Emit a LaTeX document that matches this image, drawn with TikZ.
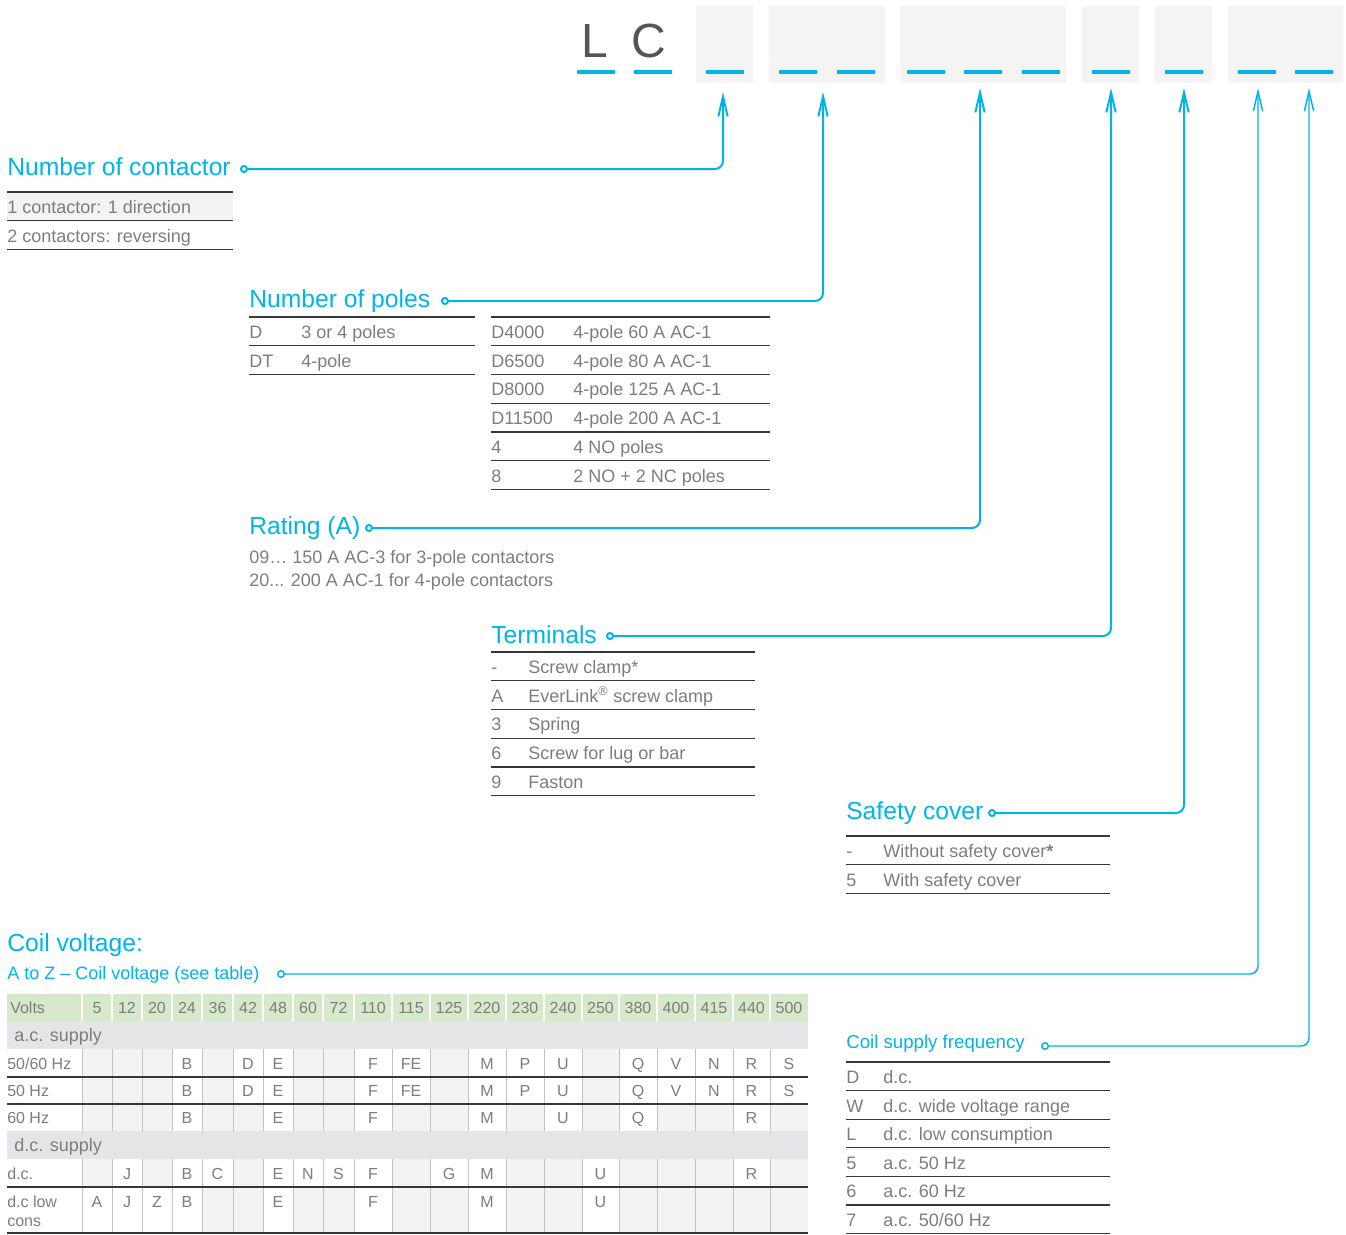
\documentclass[tikz,border=0pt]{standalone}
\usepackage{fontspec}
\setmainfont{Liberation Sans}
\usetikzlibrary{arrows.meta,positioning}
\definecolor{abbcyan}{RGB}{0,180,232}
\definecolor{txtgray}{RGB}{125,125,125}
\definecolor{codegray}{RGB}{85,85,85}
\definecolor{boxgray}{RGB}{244,244,244}
\definecolor{rulegray}{RGB}{55,55,55}
\definecolor{headgreen}{RGB}{214,233,203}
\definecolor{bandgray}{RGB}{229,229,231}
\definecolor{cellgray}{RGB}{243,243,243}
\definecolor{sepgray}{RGB}{195,195,195}
\tikzset{
  link/.style={abbcyan,line width=1.5pt,rounded corners=6pt,
    {Circle[open,length=6pt,width=6pt]}-{Straight Barb[length=15pt,width=7pt]}},
  thinlink/.style={link,line width=1.1pt},
  heading/.style={abbcyan,anchor=base west,inner sep=0pt,font=\fontsize{18.5}{22}\selectfont},
  subhead/.style={abbcyan,anchor=base west,inner sep=0pt,font=\fontsize{13.5}{16}\selectfont},
  listtxt/.style={txtgray,anchor=base west,inner sep=0pt,font=\fontsize{13.5}{16}\selectfont},
  vcell/.style={txtgray,anchor=base,inner sep=0pt,font=\fontsize{12}{14}\selectfont},
  rowlabel/.style={vcell,anchor=base west},
  tabrule/.style={rulegray,line width=0.9pt},
  codebar/.style={abbcyan,line width=3pt},
  letter/.style={codegray,anchor=base,inner sep=0pt,font=\fontsize{36}{40}\selectfont}
}

\begin{document}
\begin{tikzpicture}[x=0.75pt,y=-0.75pt]
  \useasboundingbox (0,0) rectangle (1346,1235);
  % Type code
  \node[letter] (lL) at (595,57) {L};
  \node[letter] (lC) at (649,57) {C};
  \foreach \xa/\xb in {696/753,769/885,900/1066,1082/1139,1155/1212,1228/1343}{
    \fill[boxgray] (\xa,6) rectangle (\xb,83);
  }
  \foreach \x in {596,653,725,798,856,926,983,1041,1111,1184,1257,1314}{
    \draw[codebar] (\x-19,72) -- (\x+19,72);
  }
  % Arrow tips under the boxes
  \coordinate (tipA) at (723,92);
  \coordinate (tipB) at (823,92);
  \coordinate (tipC) at (980,88);
  \coordinate (tipD) at (1111,88);
  \coordinate (tipE) at (1184,88);
  \coordinate (tipF) at (1258,88);
  \coordinate (tipG) at (1309,88);

  % Number of contactor
  \node[heading] (cnt) at (7,175) {Number of contactor};
  \coordinate (cntdot) at (240,169);
  \fill[cellgray] (7,192) rectangle (233,220.75);
  \foreach \i in {0,...,2} \draw[tabrule] (7,{192+28.75*\i}) -- (233,{192+28.75*\i});
  \foreach \t [count=\i] in {1 contactor: 1 direction, 2 contactors: reversing}{
    \node[listtxt] (cn\i) at (7,{192+21.4+28.75*(\i-1)}) {\t};
  }

  % Number of poles
  \node[heading] (poles) at (249,307) {Number of poles};
  \coordinate (polesdot) at (441,301);
  \foreach \i in {0,...,2} \draw[tabrule] (249,{317+28.75*\i}) -- (475,{317+28.75*\i});
  \foreach \k/\t [count=\i] in {D/3 or 4 poles, DT/4-pole}{
    \node[listtxt] (pk\i) at (249,{317+21.4+28.75*(\i-1)}) {\k};
    \node[listtxt] (pt\i) at (301,{317+21.4+28.75*(\i-1)}) {\t};
  }
  \foreach \i in {0,...,6} \draw[tabrule] (491,{317+28.75*\i}) -- (770,{317+28.75*\i});
  \foreach \k/\t [count=\i] in {D4000/4-pole 60 A AC-1, D6500/4-pole 80 A AC-1,
      D8000/4-pole 125 A AC-1, D11500/4-pole 200 A AC-1, 4/4 NO poles, 8/2 NO + 2 NC poles}{
    \node[listtxt] (qk\i) at (491,{317+21.4+28.75*(\i-1)}) {\k};
    \node[listtxt] (qt\i) at (573,{317+21.4+28.75*(\i-1)}) {\t};
  }

  % Rating
  \node[heading] (rating) at (249,534) {Rating (A)};
  \coordinate (ratingdot) at (365,528);
  \node[listtxt] (rt1) at (249,563) {09… 150 A AC-3 for 3-pole contactors};
  \node[listtxt] (rt2) at (249,586) {20... 200 A AC-1 for 4-pole contactors};

  % Terminals
  \node[heading] (term) at (491,643) {Terminals};
  \coordinate (termdot) at (606,636);
  \foreach \i in {0,...,5} \draw[tabrule] (491,{652+28.75*\i}) -- (755,{652+28.75*\i});
  \foreach \k/\t [count=\i] in {-/Screw clamp*, A/EverLink\textsuperscript{\textregistered} screw clamp,
      3/Spring, 6/Screw for lug or bar, 9/Faston}{
    \node[listtxt] (tk\i) at (491,{652+21.4+28.75*(\i-1)}) {\k};
    \node[listtxt] (tt\i) at (528,{652+21.4+28.75*(\i-1)}) {\t};
  }

  % Safety cover
  \node[heading] (cover) at (846,819) {Safety cover};
  \coordinate (coverdot) at (988,813);
  \foreach \i in {0,...,2} \draw[tabrule] (846,{836+28.75*\i}) -- (1110,{836+28.75*\i});
  \foreach \k/\t [count=\i] in {-/Without safety cover\textbf{*}, 5/With safety cover}{
    \node[listtxt] (sk\i) at (846,{836+21.4+28.75*(\i-1)}) {\k};
    \node[listtxt] (st\i) at (883,{836+21.4+28.75*(\i-1)}) {\t};
  }

  % Coil voltage
  \node[heading] (coil) at (7,951) {Coil voltage:};
  \node[subhead] (coilsub) at (7,979.5) {A to Z -- Coil voltage (see table)};
  \coordinate (coildot) at (277,974);

  % Coil supply frequency
  \node[subhead,font=\fontsize{14}{16}\selectfont] (freq) at (846,1048) {Coil supply frequency};
  \coordinate (freqdot) at (1041,1046);
  \foreach \i in {0,...,6} \draw[tabrule] (846,{1062+28.6*\i}) -- (1110,{1062+28.6*\i});
  \foreach \k/\t [count=\i] in {D/d.c., W/d.c. wide voltage range, L/d.c. low consumption,
      5/a.c. 50 Hz, 6/a.c. 60 Hz, 7/{a.c. 50/60 Hz}}{
    \node[listtxt] (fk\i) at (846,{1062+21.4+28.6*(\i-1)}) {\k};
    \node[listtxt] (ft\i) at (883,{1062+21.4+28.6*(\i-1)}) {\t};
  }

  % Voltage table
  \fill[headgreen] (7,994) rectangle (808,1021);
  \fill[bandgray] (7,1021) rectangle (808,1049);
  \fill[bandgray] (7,1131) rectangle (808,1159);
  \fill[cellgray] (82,1049) rectangle (808,1131);
  \fill[cellgray] (82,1159) rectangle (808,1233);
  \node[rowlabel] (volts) at (10,1013) {Volts};
  \foreach \xa/\xb/\v [count=\i] in {82/112/5,112/142/12,142/172/20,172/202/24,202/233/36,
      233/263/42,263/293/48,293/323/60,323/354/72,354/392/110,392/430/115,430/468/125,
      468/506/220,506/544/230,544/582/240,582/619/250,619/657/380,657/695/400,
      695/733/415,733/770/440,770/808/500}{
    \node[vcell] (vh\i) at ({(\xa+\xb)/2},1013) {\v};
    \draw[white,line width=1pt] (\xa,994) -- (\xa,1021);
  }
  \node[listtxt] (acband) at (14,1041.5) {a.c. supply};
  \node[listtxt] (dcband) at (14,1151.5) {d.c. supply};
  % 50/60 Hz and 50 Hz
  \foreach \ya/\yb in {1049/1077,1077/1104}{
    \foreach \xa/\xb/\t in {172/202/B,233/263/D,263/293/E,354/392/F,392/430/FE,468/506/M,
        506/544/P,544/582/U,619/657/Q,657/695/V,695/733/N,733/770/R,770/808/S}{
      \fill[white] (\xa,\ya) rectangle (\xb,\yb);
      \node[vcell] (c\ya\xa) at ({(\xa+\xb)/2},{(\ya+\yb)/2+6}) {\t};
    }
  }
  % 60 Hz
  \foreach \xa/\xb/\t in {172/202/B,263/293/E,354/392/F,468/506/M,544/582/U,619/657/Q,733/770/R}{
    \fill[white] (\xa,1104) rectangle (\xb,1131);
    \node[vcell] (s\xa) at ({(\xa+\xb)/2},1123.5) {\t};
  }
  % d.c.
  \foreach \xa/\xb/\t in {112/142/J,172/202/B,202/233/C,263/293/E,293/323/N,323/354/S,
      354/392/F,430/468/G,468/506/M,582/619/U,733/770/R}{
    \fill[white] (\xa,1159) rectangle (\xb,1187);
    \node[vcell] (d\xa) at ({(\xa+\xb)/2},1179) {\t};
  }
  % d.c low cons
  \foreach \xa/\xb/\t in {82/112/A,112/142/J,142/172/Z,172/202/B,263/293/E,354/392/F,
      468/506/M,582/619/U}{
    \fill[white] (\xa,1187) rectangle (\xb,1233);
    \node[vcell] (l\xa) at ({(\xa+\xb)/2},1207) {\t};
  }
  \node[rowlabel] (r1) at (7,1069) {50/60 Hz};
  \node[rowlabel] (r2) at (7,1096.5) {50 Hz};
  \node[rowlabel] (r3) at (7,1123.5) {60 Hz};
  \node[rowlabel] (r4) at (7,1179) {d.c.};
  \node[rowlabel] (r5) at (7,1207) {d.c low};
  \node[rowlabel] (r6) at (7,1226) {cons};
  \foreach \x in {82,112,142,172,202,233,263,293,323,354,392,430,468,506,544,582,619,657,695,733,770}{
    \draw[sepgray,line width=0.6pt] (\x,1049) -- (\x,1131) (\x,1159) -- (\x,1233);
  }
  \foreach \y in {1077,1104,1187,1233} \draw[tabrule] (7,\y) -- (808,\y);

  % Connectors
  \foreach \a/\b in {cntdot/tipA,polesdot/tipB,ratingdot/tipC,termdot/tipD,coverdot/tipE}
    \draw[link] (\a) -| (\b);
  \foreach \a/\b in {coildot/tipF,freqdot/tipG}
    \draw[thinlink] (\a) -| (\b);
\end{tikzpicture}
\end{document}
